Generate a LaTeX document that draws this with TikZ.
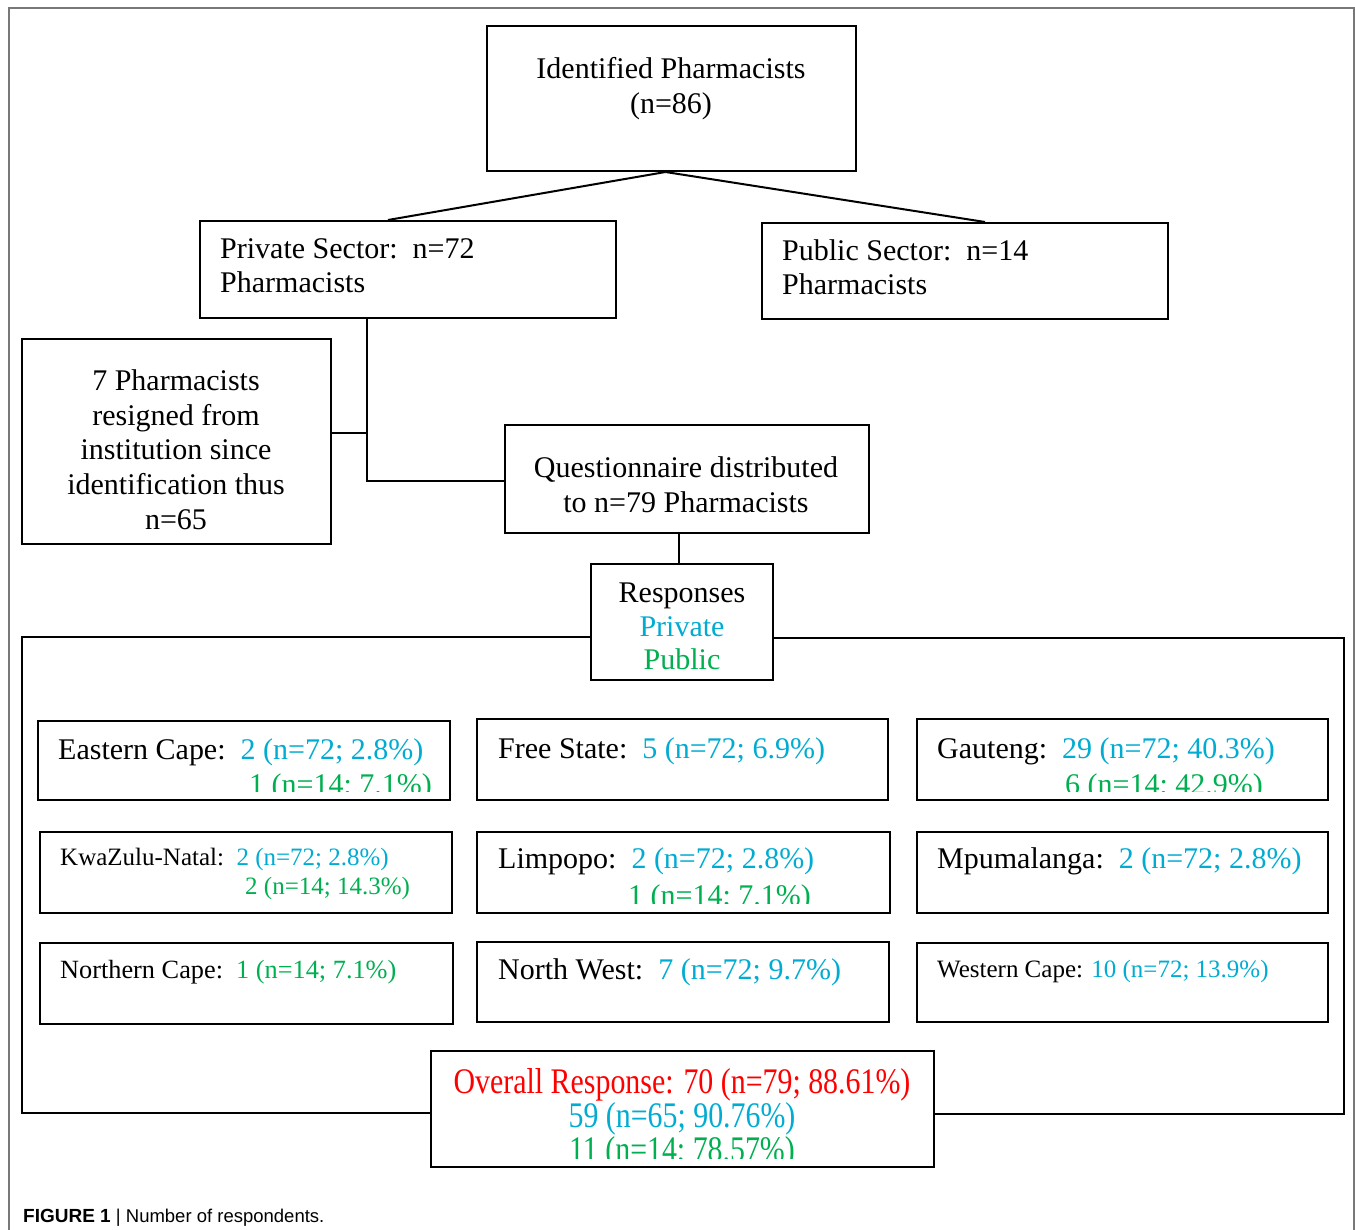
\documentclass[tikz,border=0pt]{standalone}
\usepackage{fontspec}
\setmainfont{Liberation Serif}
\newfontfamily\capfont{Liberation Sans}
\usetikzlibrary{calc}
\definecolor{cy}{RGB}{0,172,210}
\definecolor{gr}{RGB}{0,176,80}
\definecolor{framegray}{RGB}{120,120,120}
\newcommand\pbox[5]{%
  \pgfmathsetmacro\bxcx{(#2+#4)/2}\pgfmathsetmacro\bxcy{(#3+#5)/2}%
  \pgfmathsetmacro\bxw{#4-#2}\pgfmathsetmacro\bxh{#5-#3}%
  \node[box, minimum width=\bxw pt, minimum height=\bxh pt] (#1) at (\bxcx,\bxcy) {};}
\newcommand\fsz[1]{\fontsize{#1}{#1}\selectfont}
\begin{document}
\begin{tikzpicture}[x=1pt,y=-1pt,
  box/.style={draw, line width=2pt, inner sep=0pt},
  conn/.style={line width=2pt},
  t/.style={inner sep=0pt, font=\fsz{30}},
  ts/.style={inner sep=0pt, font=\fsz{25}}]
\useasboundingbox (0,0) rectangle (1355,1230);
\fill[white] (0,0) rectangle (1355,1230);
\draw[framegray, line width=2pt] (9,1240) -- (9,8) -- (1354,8) -- (1354,1240);

% boxes
\pbox{top}{487}{26}{856}{171}
\pbox{priv}{200}{221}{616}{318}
\pbox{pub}{762}{223}{1168}{319}
\pbox{res}{22}{339}{331}{544}
\pbox{quest}{505}{425}{869}{533}
\pbox{resp}{591}{564}{773}{680}
\pbox{ec}{38}{721}{450}{800}
\pbox{fs}{477}{719}{888}{800}
\pbox{ga}{917}{719}{1328}{800}
\pbox{kzn}{40}{832}{452}{913}
\pbox{lim}{477}{832}{890}{913}
\pbox{mpu}{917}{832}{1328}{913}
\pbox{nc}{40}{943}{453}{1024}
\pbox{nw}{477}{942}{889}{1022}
\pbox{wc}{917}{943}{1328}{1022}
\pbox{ov}{431}{1051}{934}{1167}

% connectors
\draw[conn] ([xshift=-6pt]top.south) -- ([xshift=-20pt]priv.north);
\draw[conn] ([xshift=-6pt]top.south) -- ([xshift=20pt]pub.north);
\coordinate (pj) at ([xshift=-41pt]priv.south);
\draw[conn] (pj) |- ([yshift=-2pt]quest.west);
\draw[conn] ([yshift=8pt]res.east) -- ([yshift=8pt]res.east -| pj);
\draw[conn] ([xshift=-3pt]resp.north |- quest.south) -- ([xshift=-3pt]resp.north);
\coordinate (fl) at (22,637);
\coordinate (fr) at (1344,638);
\coordinate (bl) at (22,1113);
\coordinate (br) at (1344,1114);
\draw[conn] (resp.west |- fl) -- (fl) -- (bl) -- (ov.west |- bl);
\draw[conn] (resp.east |- fr) -- (fr) -- (br) -- (ov.east |- br);

% top texts
\node[t, anchor=base] (topt1) at (671,79) {Identified Pharmacists};
\node[t, anchor=base] (topt2) at (671,114) {(n=86)};
\node[t, anchor=base west] (privt1) at (220,259) {Private Sector:\ \ n=72};
\node[t, anchor=base west] (privt2) at (220,293) {Pharmacists};
\node[t, anchor=base west] (pubt1) at (782,261) {Public Sector:\ \ n=14};
\node[t, anchor=base west] (pubt2) at (782,295) {Pharmacists};
\node[t, anchor=base] (rest1) at (176,391) {7 Pharmacists};
\node[t, anchor=base] (rest2) at (176,425.5) {resigned from};
\node[t, anchor=base] (rest3) at (176,460) {institution since};
\node[t, anchor=base] (rest4) at (176,494.5) {identification thus};
\node[t, anchor=base] (rest5) at (176,529) {n=65};
\node[t, anchor=base] (questt1) at (686,477) {Questionnaire distributed};
\node[t, anchor=base] (questt2) at (686,512) {to n=79 Pharmacists};
\node[t, anchor=base] (respt1) at (682,602) {Responses};
\node[t, anchor=base, text=cy] (respt2) at (682,636) {Private};
\node[t, anchor=base, text=gr] (respt3) at (682,669) {Public};

% regions
\node[t, anchor=base west] (ect1) at (58,759) {Eastern Cape:\ \ \textcolor{cy}{2 (n=72; 2.8\%)}};
\begin{scope}
\clip (38,721) rectangle (450,791);
\node[t, anchor=base west, text=gr] (ect2) at (249,794) {1 (n=14; 7.1\%)};
\end{scope}
\node[t, anchor=base west] (fst1) at (498,758) {Free State:\ \ \textcolor{cy}{5 (n=72; 6.9\%)}};
\node[t, anchor=base west] (gat1) at (937,758) {Gauteng:\ \ \textcolor{cy}{29 (n=72; 40.3\%)}};
\begin{scope}
\clip (917,719) rectangle (1328,791);
\node[t, anchor=base west, text=gr] (gat2) at (1065,794) {6 (n=14; 42.9\%)};
\end{scope}
\node[ts, anchor=base west] (kznt1) at (60,865) {KwaZulu-Natal:\ \ \textcolor{cy}{2 (n=72; 2.8\%)}};
\node[ts, anchor=base west, text=gr] (kznt2) at (245,894) {2 (n=14; 14.3\%)};
\node[t, anchor=base west] (limt1) at (498,868) {Limpopo:\ \ \textcolor{cy}{2 (n=72; 2.8\%)}};
\begin{scope}
\clip (477,832) rectangle (890,903);
\node[t, anchor=base west, text=gr] (limt2) at (628,905) {1 (n=14; 7.1\%)};
\end{scope}
\node[t, anchor=base west] (mput1) at (937,868) {Mpumalanga:\ \ \textcolor{cy}{2 (n=72; 2.8\%)}};
\node[inner sep=0pt, font=\fsz{26.3}, anchor=base west] (nct1) at (60,978) {Northern Cape:\ \ \textcolor{gr}{1 (n=14; 7.1\%)}};
\node[t, anchor=base west] (nwt1) at (498,979) {North West:\ \ \textcolor{cy}{7 (n=72; 9.7\%)}};
\node[ts, anchor=base west] (wct1) at (937,977) {Western Cape: \textcolor{cy}{10 (n=72; 13.9\%)}};

% overall
\node[inner sep=0pt, font=\fsz{36}, anchor=base, text=red] (ovt1) at (682,1093) {\scalebox{0.83}[1]{Overall Response: 70 (n=79; 88.61\%)}};
\node[inner sep=0pt, font=\fsz{36}, anchor=base, text=cy] (ovt2) at (682,1127) {\scalebox{0.83}[1]{59 (n=65; 90.76\%)}};
\begin{scope}
\clip (431,1051) rectangle (934,1158);
\node[inner sep=0pt, font=\fsz{36}, anchor=base, text=gr] (ovt3) at (682,1161) {\scalebox{0.83}[1]{11 (n=14; 78.57\%)}};
\end{scope}

% caption
\node[inner sep=0pt, anchor=base west, font=\capfont\fsz{18.5}] (cap) at (23,1222) {{\fsz{19}\textbf{FIGURE 1}} | Number of respondents.};
\end{tikzpicture}
\end{document}
